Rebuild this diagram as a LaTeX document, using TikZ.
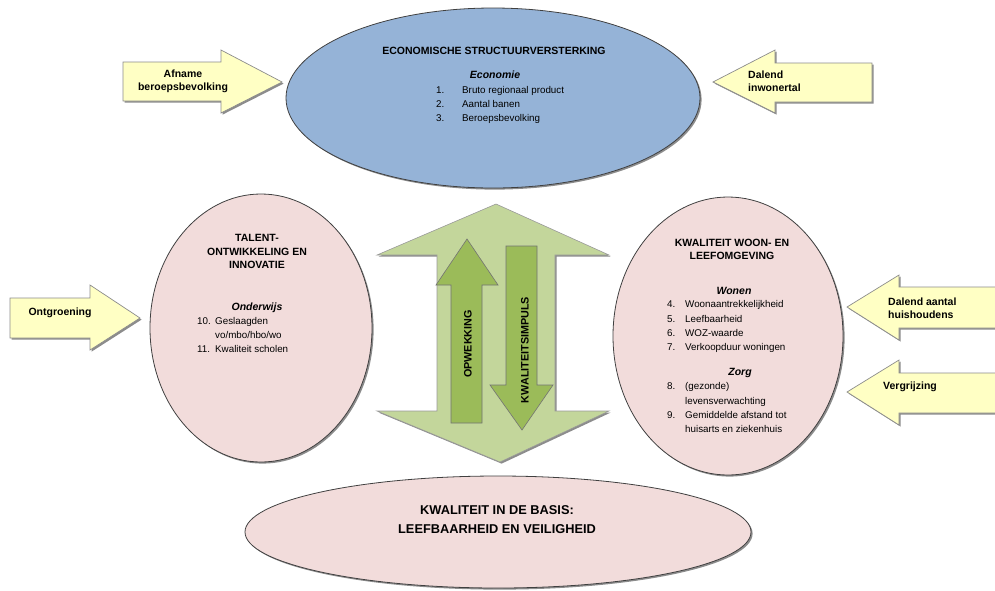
\documentclass[tikz,border=0pt]{standalone}
\usepackage{fontspec}
\setmainfont{Liberation Sans}
\usetikzlibrary{shapes.geometric,shadows}
\definecolor{ecoblue}{HTML}{95B3D7}
\definecolor{pinkfill}{HTML}{F2DCDB}
\definecolor{lightgreen}{HTML}{C3D69B}
\definecolor{darkgreen}{HTML}{9BBB59}
\definecolor{yellowfill}{HTML}{FFFFC4}
\begin{document}
\begin{tikzpicture}[x=1pt,y=-1pt,
  font=\fontsize{9.8}{12}\selectfont,
  shad/.style={drop shadow={shadow xshift=1.6pt,shadow yshift=-1.6pt,fill=black,opacity=0.45}},
  ell/.style={ellipse,draw=black!75,line width=0.8pt,inner sep=0pt,shad},
  yarr/.style={draw=black!45,fill=yellowfill,line width=0.7pt,shad},
  garr/.style={draw=black!40,line width=0.6pt},
  txt/.style={anchor=mid,inner sep=0pt},
  num/.style={anchor=mid west,inner sep=0pt},
  head/.style={txt,font=\fontsize{10.5}{13.5}\selectfont\bfseries},
  sub/.style={txt,font=\fontsize{10.5}{13}\selectfont\bfseries\itshape},
  ytxt/.style={inner sep=0pt,font=\fontsize{10.5}{13}\selectfont\bfseries},
  gtxt/.style={txt,rotate=90,font=\fontsize{10.8}{13}\selectfont\bfseries}]
\useasboundingbox (0,0) rectangle (995,590);
\clip (0,0) rectangle (995,590);

% ellipses
\node[ell,fill=ecoblue,minimum width=414pt,minimum height=180pt] (eco) at (493,98) {};
\node[ell,fill=pinkfill,minimum width=222pt,minimum height=268pt] (tal) at (261,328) {};
\node[ell,fill=pinkfill,minimum width=230pt,minimum height=278pt] (kwa) at (728,336) {};
\node[ell,fill=pinkfill,minimum width=506pt,minimum height=112pt] (bas) at (498,532) {};

% top ellipse text
\node[head] (ecoh) at (494,52) {ECONOMISCHE STRUCTUURVERSTERKING};
\node[sub] (ecos) at (495,76) {Economie};
\node[num] (e1n) at (436,91) {1.};  \node[num] (e1) at (462,91) {Bruto regionaal product};
\node[num] (e2n) at (436,105) {2.}; \node[num] (e2) at (462,105) {Aantal banen};
\node[num] (e3n) at (436,119) {3.}; \node[num] (e3) at (462,119) {Beroepsbevolking};

% left ellipse text
\node[head,align=center] (talh) at (257,266) {TALENT-\\ONTWIKKELING EN\\INNOVATIE};
\node[sub] (tals) at (257,308) {Onderwijs};
\node[num] (t10n) at (197,322) {10.}; \node[num] (t10) at (215,322) {Geslaagden};
\node[num] (t10b) at (215,336) {vo/mbo/hbo/wo};
\node[num] (t11n) at (197,350) {11.}; \node[num] (t11) at (215,350) {Kwaliteit scholen};

% right ellipse text
\node[head,align=center] (kwah) at (732,257) {KWALITEIT WOON- EN\\LEEFOMGEVING};
\node[sub] (kwaw) at (734,292) {Wonen};
\node[num] (k4n) at (667,305) {4.}; \node[num] (k4) at (685,305) {Woonaantrekkelijkheid};
\node[num] (k5n) at (667,320) {5.}; \node[num] (k5) at (685,320) {Leefbaarheid};
\node[num] (k6n) at (667,334) {6.}; \node[num] (k6) at (685,334) {WOZ-waarde};
\node[num] (k7n) at (667,348) {7.}; \node[num] (k7) at (685,348) {Verkoopduur woningen};
\node[sub] (kwaz) at (740,373) {Zorg};
\node[num] (k8n) at (667,387) {8.}; \node[num] (k8) at (685,387) {(gezonde)};
\node[num] (k8b) at (685,402) {levensverwachting};
\node[num] (k9n) at (667,416) {9.}; \node[num] (k9) at (685,416) {Gemiddelde afstand tot};
\node[num] (k9b) at (685,430) {huisarts en ziekenhuis};

% bottom ellipse text
\node[txt,align=center,font=\fontsize{12.8}{19}\selectfont\bfseries] (bast) at (497,531) {KWALITEIT IN DE BASIS:\\LEEFBAARHEID EN VEILIGHEID};

% big double arrow
\draw[garr,fill=lightgreen,shad] (496,204) -- (609,255) -- (555,255) -- (555,411) -- (609,411)
  -- (500,462) -- (377,411) -- (437,411) -- (437,255) -- (377,255) -- cycle;
% up arrow
\draw[garr,draw=black!55,fill=darkgreen] (467,239) -- (498,285) -- (482,285) -- (482,423)
  -- (451,423) -- (451,285) -- (436,285) -- cycle;
% down arrow
\draw[garr,draw=black!55,fill=darkgreen] (506,246) -- (537,246) -- (537,385) -- (553,385)
  -- (522,430) -- (490,385) -- (506,385) -- cycle;
\node[gtxt] (opw) at (469,344) {OPWEKKING};
\node[gtxt] (kwi) at (526,350) {KWALITEITSIMPULS};

% yellow arrows
\draw[yarr] (123,62) -- (221,62) -- (221,50) -- (282,82) -- (221,113) -- (221,101) -- (123,101) -- cycle;
\node[ytxt,align=center] (afn) at (183,81) {Afname\\beroepsbevolking};

\draw[yarr] (872,63) -- (775,63) -- (775,50) -- (713,82) -- (775,113) -- (775,102) -- (872,102) -- cycle;
\node[ytxt,anchor=west,align=left] (dal) at (748,81) {Dalend\\inwonertal};

\draw[yarr] (10,298) -- (90,298) -- (90,285) -- (140,318) -- (90,350) -- (90,338) -- (10,338) -- cycle;
\node[ytxt] (ont) at (60,313) {Ontgroening};

\draw[yarr] (1000,287) -- (899,287) -- (899,275) -- (847,307) -- (899,340) -- (899,328) -- (1000,328) -- cycle;
\node[ytxt,anchor=west,align=left] (hui) at (888,308) {Dalend aantal\\huishoudens};

\draw[yarr] (1000,373) -- (899,373) -- (899,360) -- (847,392) -- (899,425) -- (899,413) -- (1000,413) -- cycle;
\node[ytxt,anchor=west] (ver) at (883,387) {Vergrijzing};
\end{tikzpicture}
\end{document}
